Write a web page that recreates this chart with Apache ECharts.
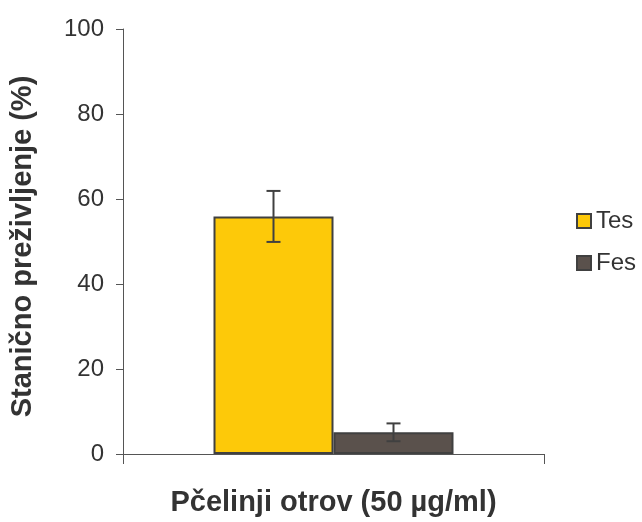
<!DOCTYPE html>
<html>
<head>
<meta charset="utf-8">
<script src="https://cdn.jsdelivr.net/npm/echarts@6/dist/echarts.min.js"></script>
<style>html,body{margin:0;padding:0;background:#fff}#c{width:642px;height:522px}</style>
</head>
<body>
<div id="c"></div>
<script>
var categories = [''];
var seriesNames = ['Tes', 'Fes'];
var tesValues = [55.9];
var tesErrors = [6.0];
var fesValues = [5.1];
var fesErrors = [2.1];
var yTicks = [0, 20, 40, 60, 80, 100];

var chart = echarts.init(document.getElementById('c'));
var FONT = 'Liberation Sans, Arial, sans-serif';
var BAR_W = 120;

function errSeries(name, vals, errs, offset) {
  return {
    type: 'custom',
    name: name + ' err',
    z: 10,
    data: vals.map(function (v, i) { return [i, v - errs[i], v + errs[i]]; }),
    renderItem: function (params, api) {
      var lo = api.coord([api.value(0), api.value(1)]);
      var hi = api.coord([api.value(0), api.value(2)]);
      var x = lo[0] + offset;
      var cap = 7;
      var st = { stroke: '#404040', lineWidth: 2 };
      return {
        type: 'group',
        children: [
          { type: 'line', shape: { x1: x, y1: lo[1], x2: x, y2: hi[1] }, style: st },
          { type: 'line', shape: { x1: x - cap, y1: lo[1], x2: x + cap, y2: lo[1] }, style: st },
          { type: 'line', shape: { x1: x - cap, y1: hi[1], x2: x + cap, y2: hi[1] }, style: st }
        ]
      };
    },
    silent: true,
    tooltip: { show: false }
  };
}

chart.setOption({
  animation: false,
  textStyle: { fontFamily: FONT },
  grid: { left: 123, right: 98, top: 29, bottom: 64 },
  legend: {
    data: seriesNames,
    orient: 'vertical',
    left: 576,
    top: 209,
    padding: 0,
    itemWidth: 14,
    itemHeight: 14,
    itemGap: 18,
    icon: 'rect',
    textStyle: { fontSize: 24, color: '#333', fontFamily: FONT }
  },
  xAxis: {
    type: 'category',
    data: categories,
    name: 'Pčelinji otrov (50 µg/ml)',
    nameLocation: 'middle',
    nameGap: 34,
    nameTextStyle: { fontSize: 29, fontWeight: 'bold', color: '#333', fontFamily: FONT },
    axisLine: { lineStyle: { color: '#555', width: 1 } },
    axisTick: { show: true, length: 10, lineStyle: { color: '#555' } },
    axisLabel: { show: false }
  },
  yAxis: {
    type: 'value',
    min: 0,
    max: 100,
    interval: 20,
    name: 'Stanično preživljenje (%)',
    nameLocation: 'middle',
    nameGap: 86,
    nameTextStyle: { fontSize: 29, fontWeight: 'bold', color: '#333', fontFamily: FONT, padding: [0, 10, 0, 0] },
    axisLine: { show: true, lineStyle: { color: '#555', width: 1 } },
    axisTick: { show: true, length: 7, lineStyle: { color: '#555' } },
    splitLine: { show: false },
    axisLabel: {
      fontSize: 24, color: '#333', margin: 19, fontFamily: FONT,
      formatter: function (v) { return yTicks.indexOf(v) >= 0 ? String(v) : ''; }
    }
  },
  series: [
    {
      type: 'bar', name: seriesNames[0], data: tesValues,
      barWidth: BAR_W, barGap: '0%',
      itemStyle: { color: '#FDC909', borderColor: '#404040', borderWidth: 2 }
    },
    {
      type: 'bar', name: seriesNames[1], data: fesValues,
      barWidth: BAR_W, barGap: '0%',
      itemStyle: { color: '#5A514C', borderColor: '#404040', borderWidth: 2 }
    },
    errSeries(seriesNames[0], tesValues, tesErrors, -BAR_W / 2),
    errSeries(seriesNames[1], fesValues, fesErrors, BAR_W / 2)
  ]
});
</script>
</body>
</html>
